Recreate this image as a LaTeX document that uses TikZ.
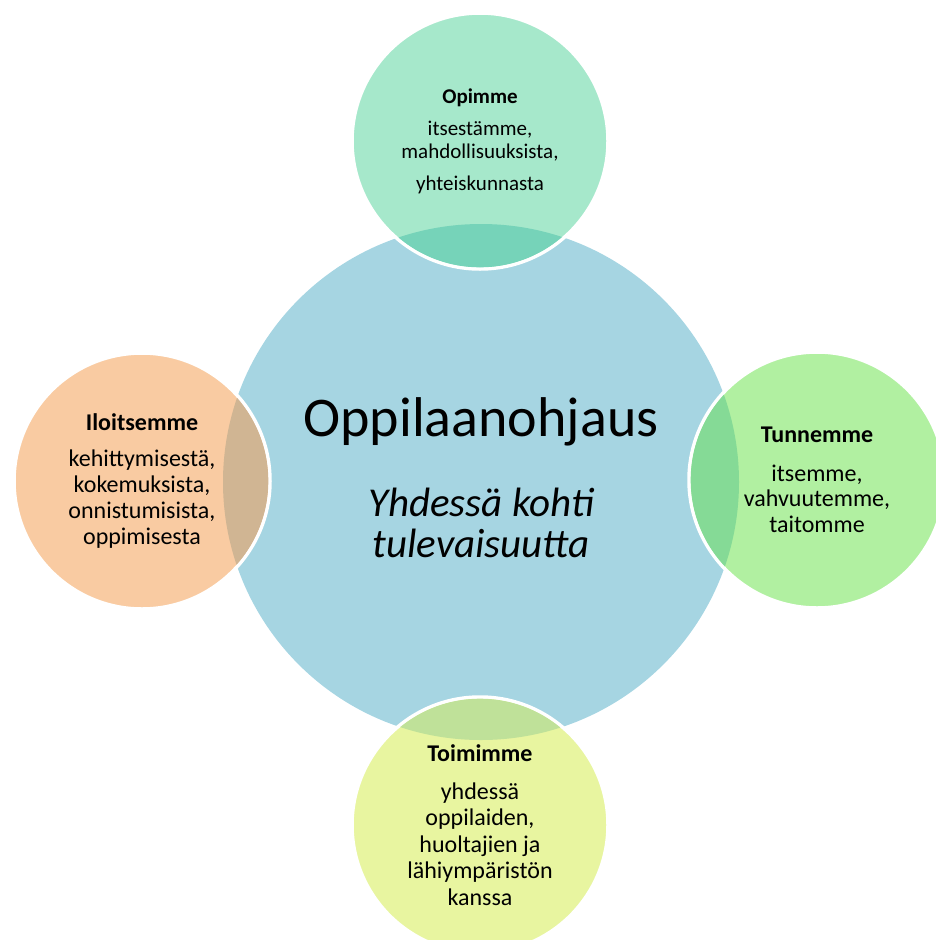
\documentclass[tikz,border=0pt]{standalone}
\usepackage{fontspec}
\setmainfont{Carlito}
\newfontfamily\handfont{Carlito}

\definecolor{ohjausblue}{RGB}{166,213,226}
\definecolor{opimmecol}{RGB}{166,232,203}
\definecolor{opimmeov}{RGB}{118,211,185}
\definecolor{tunnemmecol}{RGB}{177,240,161}
\definecolor{tunnemmeov}{RGB}{133,218,150}
\definecolor{iloitsemmecol}{RGB}{249,203,162}
\definecolor{iloitsemmeov}{RGB}{208,181,147}
\definecolor{toimimmecol}{RGB}{232,245,160}
\definecolor{toimimmeov}{RGB}{191,225,153}

\tikzset{x=1pt,y=-1pt,every node/.style={font=\fontsize{24}{26}\selectfont},
    petal/.style={circle,minimum size=256pt,inner sep=0pt,align=center,draw=white,line width=3.5pt}}

\begin{document}
\begin{tikzpicture}
    \useasboundingbox (0,0) rectangle (936,940);
    \node[circle,minimum size=516pt,fill=ohjausblue] (ohjaus) at (481,482) {};

    \node[petal,fill=opimmecol,font=\fontsize{21}{23}\selectfont] (opimme) at (480,141)
        {\textbf{Opimme}\\[9pt] itsestämme,\\ mahdollisuuksista,\\[9pt] yhteiskunnasta};
    \node[petal,fill=tunnemmecol,font=\fontsize{24}{25.5}\selectfont] (tunnemme) at (817,480)
        {\textbf{Tunnemme}\\[13pt] itsemme,\\ vahvuutemme,\\ taitomme};
    \node[petal,fill=iloitsemmecol] (iloitsemme) at (142,481)
        {\textbf{Iloitsemme}\\[10pt] kehittymisestä,\\ kokemuksista,\\ onnistumisista,\\ oppimisesta};
    \node[petal,fill=toimimmecol,font=\fontsize{24}{26.5}\selectfont] (toimimme) at (480,825)
        {\textbf{Toimimme}\\[11.5pt] yhdessä\\ oppilaiden,\\ huoltajien ja\\ lähiympäristön\\ kanssa};

    \foreach \n/\c in {opimme/opimmeov,tunnemme/tunnemmeov,iloitsemme/iloitsemmeov,toimimme/toimimmeov}{
        \begin{scope}
            \clip (ohjaus.center) circle (258pt);
            \fill[\c] (\n.center) circle (126.3pt);
        \end{scope}
    }

    \node[anchor=base,font=\fontsize{56}{60}\selectfont] (otsikko) at (481,436) {Oppilaanohjaus};
    \node[align=center,font=\handfont\itshape\fontsize{41}{41}\selectfont] (motto) at (481,523)
        {Yhdessä kohti\\ tulevaisuutta};
\end{tikzpicture}
\end{document}
